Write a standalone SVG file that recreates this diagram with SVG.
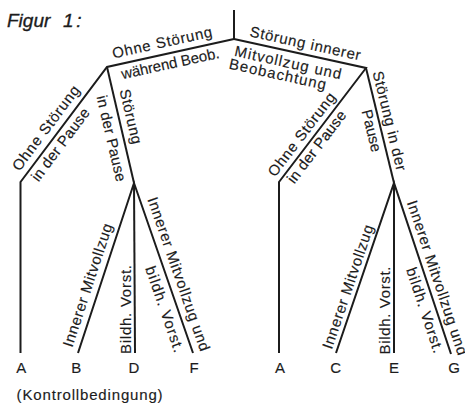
<svg xmlns="http://www.w3.org/2000/svg" width="465" height="405" viewBox="0 0 465 405">
<style>
.ln{fill:none;stroke:#1c1c1c;stroke-width:2;stroke-linejoin:miter;stroke-linecap:butt}
text{font-family:"Liberation Sans",Arial,Helvetica,sans-serif;font-size:15px;fill:#1c1c1c;stroke:#1c1c1c;stroke-width:0.15}
.lbl{text-anchor:middle}
.fig{font-size:19px;font-style:italic;stroke-width:0.35}
</style>
<rect width="465" height="405" fill="#ffffff"/>
<g id="title"><text class="fig" x="7" y="27">Figur<tspan x="63">1</tspan><tspan x="76.3">:</tspan></text></g>
<g id="connectors" class="ln">
<polyline points="234,10 234,39"/>
<polyline points="234,39 107,67 20.5,182 20.5,353"/>
<polyline points="107,67 134,183"/>
<polyline points="78,353 134,183 193,353"/>
<polyline points="134,183 135,353"/>
<polyline points="234,39 366,68 279,182 279,353"/>
<polyline points="366,68 394,183"/>
<polyline points="336,353 394,183 451,354"/>
<polyline points="394,183 394,353"/>
</g>
<g id="edge-labels">
<g id="lbl-top-left">
<text transform="translate(113.4,58.5) rotate(-12.43)" textLength="102" lengthAdjust="spacing">Ohne Störung</text>
<text transform="translate(122.4,79.3) rotate(-12.43)" textLength="100" lengthAdjust="spacing">während Beob.</text>
</g>
<g id="lbl-top-right">
<text transform="translate(249,36.2) rotate(12.39)" textLength="113" lengthAdjust="spacing">Störung innerer</text>
<text transform="translate(233.7,55.8) rotate(12.39)" textLength="109" lengthAdjust="spacing">Mitvollzug und</text>
<text transform="translate(228.2,68.5) rotate(12.39)" textLength="99" lengthAdjust="spacing">Beobachtung</text>
</g>
<g id="lbl-left-left">
<text transform="translate(19.4,171.9) rotate(-53.2)" textLength="102" lengthAdjust="spacing">Ohne Störung</text>
<text transform="translate(38.4,182.5) rotate(-53.2)" textLength="87" lengthAdjust="spacing">in der Pause</text>
</g>
<g id="lbl-left-right">
<text transform="translate(119.6,90.4) rotate(76.9)" textLength="56" lengthAdjust="spacing">Störung</text>
<text transform="translate(96.4,96.7) rotate(76.9)" textLength="88" lengthAdjust="spacing">in der Pause</text>
</g>
<g id="lbl-right-left">
<text transform="translate(275,177.7) rotate(-52.65)" textLength="101" lengthAdjust="spacing">Ohne Störung</text>
<text transform="translate(294.3,184.5) rotate(-52.65)" textLength="87" lengthAdjust="spacing">in der Pause</text>
</g>
<g id="lbl-right-right">
<text transform="translate(372.6,72.4) rotate(76.3)" textLength="102" lengthAdjust="spacing">Störung in der</text>
<text transform="translate(361.5,111.1) rotate(76.3)" textLength="43" lengthAdjust="spacing">Pause</text>
</g>
<g id="lbl-fan-left">
<text transform="translate(72.3,348) rotate(-71.8)" textLength="129" lengthAdjust="spacing">Innerer Mitvollzug</text>
<text transform="translate(130.5,354) rotate(-90)" textLength="89" lengthAdjust="spacing">Bildh. Vorst.</text>
<text transform="translate(147.3,199.2) rotate(70.87)" textLength="162" lengthAdjust="spacing">Innerer Mitvollzug und</text>
<text transform="translate(145.1,268.3) rotate(70.87)" textLength="90" lengthAdjust="spacing">bildh. Vorst.</text>
</g>
<g id="lbl-fan-right">
<text transform="translate(331.75,350) rotate(-71.16)" textLength="130" lengthAdjust="spacing">Innerer Mitvollzug</text>
<text transform="translate(389.5,354.5) rotate(-90)" textLength="88" lengthAdjust="spacing">Bildh. Vorst.</text>
<text transform="translate(406.8,202.4) rotate(71.57)" textLength="162" lengthAdjust="spacing">Innerer Mitvollzug und</text>
<text transform="translate(405.9,269.6) rotate(71.57)" textLength="89" lengthAdjust="spacing">bildh. Vorst.</text>
</g>
</g>
<g id="node-A1"><text class="lbl" x="21.3" y="373.3">A</text></g>
<g id="node-B"><text class="lbl" x="76.3" y="373.3">B</text></g>
<g id="node-D"><text class="lbl" x="134" y="373.3">D</text></g>
<g id="node-F"><text class="lbl" x="194" y="373.3">F</text></g>
<g id="node-A2"><text class="lbl" x="280" y="373.3">A</text></g>
<g id="node-C"><text class="lbl" x="335.7" y="373.3">C</text></g>
<g id="node-E"><text class="lbl" x="394" y="373.3">E</text></g>
<g id="node-G"><text class="lbl" x="454" y="373.3">G</text></g>
<g id="caption"><text x="16.6" y="399.5" textLength="146" lengthAdjust="spacing">(Kontrollbedingung)</text></g>
</svg>
